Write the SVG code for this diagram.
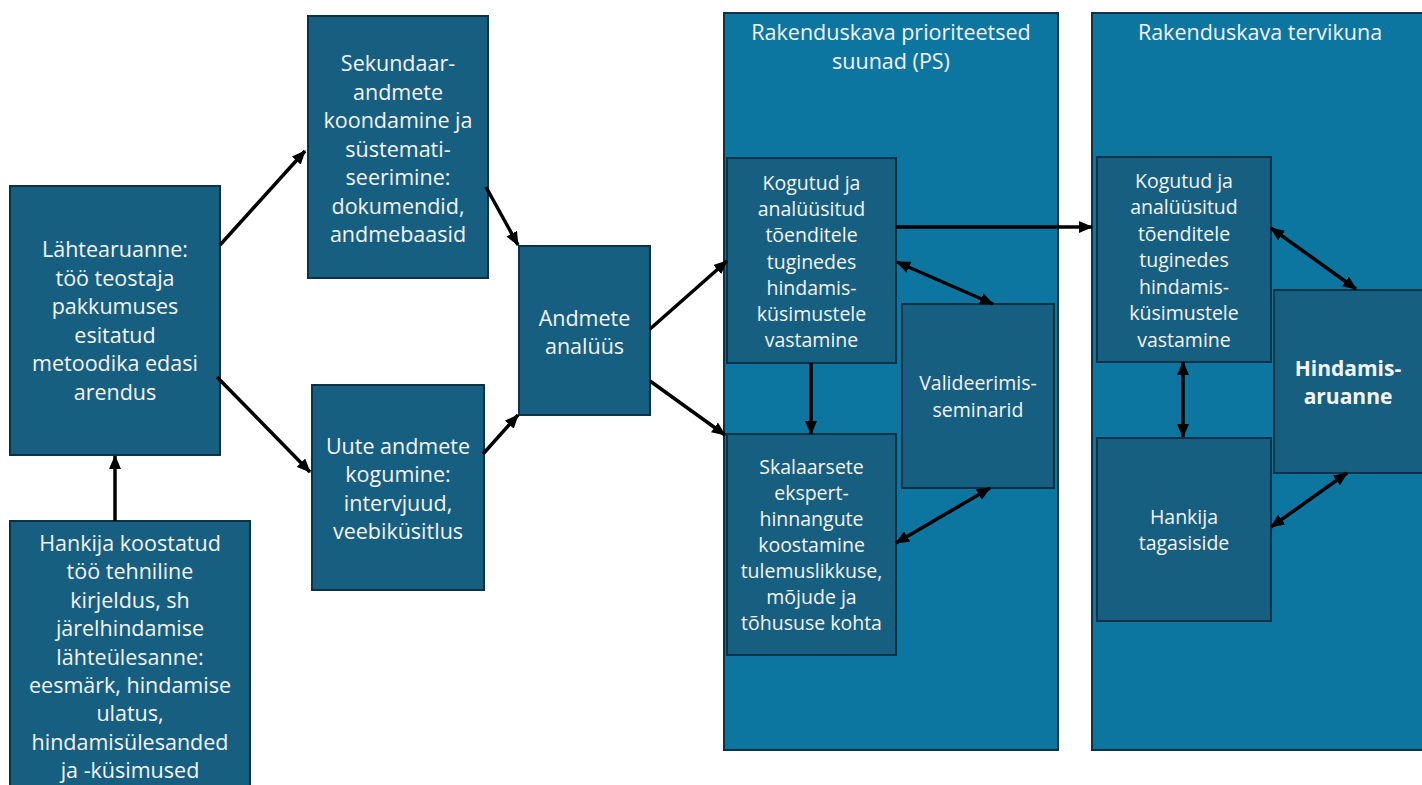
<svg xmlns="http://www.w3.org/2000/svg" width="1422" height="785" viewBox="0 0 1422 785">
<style>
.cont{fill:#0c76a1;stroke:#0d3246;stroke-width:2}
.box{fill:#175f80;stroke:#0d3246;stroke-width:2}
.t{font-family:"Open Sans","Noto Sans",sans-serif;fill:#f4f4f4;text-anchor:middle}
.l{font-size:21.5px}
.r{font-size:19.5px}
.b{font-size:21px;font-weight:bold}
.c{stroke:#000;stroke-width:3.5;fill:none}
</style>
<defs>
<marker id="ah" markerUnits="userSpaceOnUse" markerWidth="14" markerHeight="12" viewBox="0 0 14 12" refX="13" refY="6" orient="auto-start-reverse">
<path d="M0,0 L14,6 L0,12 z" fill="#000"/>
</marker>
</defs>
<rect width="1422" height="785" fill="#fff"/>
<g id="container-ps">
<rect class="cont" x="724" y="13" width="334" height="737"/>
<text class="t l" x="891" y="40">Rakenduskava prioriteetsed<tspan x="891" dy="29">suunad (PS)</tspan></text>
</g>
<g id="container-tervik">
<rect class="cont" x="1092" y="13" width="340" height="737"/>
<text class="t l" x="1260" y="40">Rakenduskava tervikuna</text>
</g>
<g id="lahtearuanne">
<rect class="box" x="10" y="186" width="210" height="269"/>
<text class="t l" x="115" y="257">Lähtearuanne:<tspan x="115" dy="28.5">töö teostaja</tspan><tspan x="115" dy="28.5">pakkumuses</tspan><tspan x="115" dy="28.5">esitatud</tspan><tspan x="115" dy="28.5">metoodika edasi</tspan><tspan x="115" dy="28.5">arendus</tspan></text>
</g>
<g id="hankija-kirjeldus">
<rect class="box" x="10" y="521" width="240" height="275"/>
<text class="t l" x="130" y="551">Hankija koostatud<tspan x="130" dy="28.4">töö tehniline</tspan><tspan x="130" dy="28.4">kirjeldus, sh</tspan><tspan x="130" dy="28.4">järelhindamise</tspan><tspan x="130" dy="28.4">lähteülesanne:</tspan><tspan x="130" dy="28.4">eesmärk, hindamise</tspan><tspan x="130" dy="28.4">ulatus,</tspan><tspan x="130" dy="28.4">hindamisülesanded</tspan><tspan x="130" dy="28.4">ja -küsimused</tspan></text>
</g>
<g id="sekundaar">
<rect class="box" x="308" y="16" width="180" height="262"/>
<text class="t l" x="398" y="71">Sekundaar-<tspan x="398" dy="28.5">andmete</tspan><tspan x="398" dy="28.5">koondamine ja</tspan><tspan x="398" dy="28.5">süstemati-</tspan><tspan x="398" dy="28.5">seerimine:</tspan><tspan x="398" dy="28.5">dokumendid,</tspan><tspan x="398" dy="28.5">andmebaasid</tspan></text>
</g>
<g id="uute-andmete">
<rect class="box" x="312" y="385" width="172" height="205"/>
<text class="t l" x="398" y="453.5">Uute andmete<tspan x="398" dy="28.5">kogumine:</tspan><tspan x="398" dy="28.5">intervjuud,</tspan><tspan x="398" dy="28.5">veebiküsitlus</tspan></text>
</g>
<g id="andmete-analyys">
<rect class="box" x="519" y="246" width="131" height="169"/>
<text class="t l" x="584.5" y="326">Andmete<tspan x="584.5" dy="28">analüüs</tspan></text>
</g>
<g id="kogutud-ps">
<rect class="box" x="727" y="158" width="169" height="205"/>
<text class="t r" x="811.5" y="190">Kogutud ja<tspan x="811.5" dy="26.2">analüüsitud</tspan><tspan x="811.5" dy="26.2">tõenditele</tspan><tspan x="811.5" dy="26.2">tuginedes</tspan><tspan x="811.5" dy="26.2">hindamis-</tspan><tspan x="811.5" dy="26.2">küsimustele</tspan><tspan x="811.5" dy="26.2">vastamine</tspan></text>
</g>
<g id="valideerimis">
<rect class="box" x="902" y="304" width="152" height="184"/>
<text class="t r" x="978" y="390">Valideerimis-<tspan x="978" dy="26.5">seminarid</tspan></text>
</g>
<g id="skalaarsete">
<rect class="box" x="727" y="434" width="169" height="221"/>
<text class="t r" x="811.5" y="474">Skalaarsete<tspan x="811.5" dy="26">ekspert-</tspan><tspan x="811.5" dy="26">hinnangute</tspan><tspan x="811.5" dy="26">koostamine</tspan><tspan x="811.5" dy="26">tulemuslikkuse,</tspan><tspan x="811.5" dy="26">mõjude ja</tspan><tspan x="811.5" dy="26">tõhususe kohta</tspan></text>
</g>
<g id="kogutud-tervik">
<rect class="box" x="1097" y="157" width="174" height="205"/>
<text class="t r" x="1184" y="187.5">Kogutud ja<tspan x="1184" dy="26.5">analüüsitud</tspan><tspan x="1184" dy="26.5">tõenditele</tspan><tspan x="1184" dy="26.5">tuginedes</tspan><tspan x="1184" dy="26.5">hindamis-</tspan><tspan x="1184" dy="26.5">küsimustele</tspan><tspan x="1184" dy="26.5">vastamine</tspan></text>
</g>
<g id="hankija-tagasiside">
<rect class="box" x="1097" y="438" width="174" height="183"/>
<text class="t r" x="1184" y="524">Hankija<tspan x="1184" dy="26">tagasiside</tspan></text>
</g>
<g id="hindamisaruanne">
<rect class="box" x="1274" y="290" width="160" height="183"/>
<text class="t b" x="1348" y="375.5">Hindamis-<tspan x="1348" dy="28.5">aruanne</tspan></text>
</g>
<g id="connectors">
<line class="c" x1="220" y1="245" x2="305" y2="151" marker-end="url(#ah)"/>
<line class="c" x1="217" y1="377" x2="310" y2="472" marker-end="url(#ah)"/>
<line class="c" x1="115" y1="521" x2="115" y2="456" marker-end="url(#ah)"/>
<line class="c" x1="486" y1="187" x2="518" y2="245" marker-end="url(#ah)"/>
<line class="c" x1="483" y1="454" x2="518" y2="415" marker-end="url(#ah)"/>
<line class="c" x1="650" y1="329" x2="727" y2="261" marker-end="url(#ah)"/>
<line class="c" x1="650" y1="381" x2="725" y2="435" marker-end="url(#ah)"/>
<line class="c" x1="896" y1="227" x2="1092" y2="227" marker-end="url(#ah)"/>
<line class="c" x1="897" y1="262" x2="993" y2="304" marker-start="url(#ah)" marker-end="url(#ah)"/>
<line class="c" x1="811" y1="363" x2="811" y2="434" marker-end="url(#ah)"/>
<line class="c" x1="896" y1="543" x2="990" y2="488" marker-start="url(#ah)" marker-end="url(#ah)"/>
<line class="c" x1="1271" y1="228" x2="1356" y2="289" marker-start="url(#ah)" marker-end="url(#ah)"/>
<line class="c" x1="1183" y1="362" x2="1183" y2="437" marker-start="url(#ah)" marker-end="url(#ah)"/>
<line class="c" x1="1271" y1="527" x2="1347" y2="473" marker-start="url(#ah)" marker-end="url(#ah)"/>
</g>
</svg>
